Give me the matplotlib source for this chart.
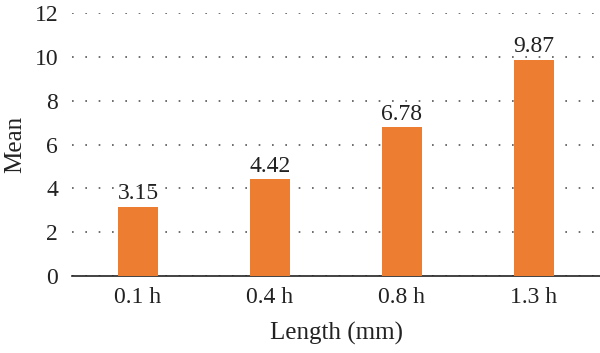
import numpy as np
import matplotlib.pyplot as plt

categories = ['0.1 h', '0.4 h', '0.8 h', '1.3 h']
means = [3.15, 4.42, 6.78, 9.87]
yticks = [0, 2, 4, 6, 8, 10, 12]

plt.rcParams['font.family'] = ['Liberation Serif', 'DejaVu Serif']

fig = plt.figure(figsize=(6, 3.53), dpi=100)
ax = fig.add_axes([0.12, 0.218, 0.88, 0.745])

x = np.arange(len(categories))
bars = ax.bar(x, means, width=0.31, color='#ED7D31', zorder=3)
for xi, v in zip(x, means):
    ax.text(xi, v + 0.12, f'{v:.2f}', ha='center', va='bottom', fontsize=17, color='#222222')

ax.set_xlim(-0.5, len(categories) - 0.5)
ax.set_ylim(0, 12)
ax.set_yticks(yticks)
ax.set_xticks(x)
ax.set_xticklabels(categories)
ax.tick_params(axis='both', length=0, labelsize=17, colors='#222222', pad=8)
ax.tick_params(axis='y', pad=10)

ax.grid(axis='y', linestyle=(0, (1, 7)), color='#555555', linewidth=1.2, zorder=0)
for s in ['top', 'right', 'left']:
    ax.spines[s].set_visible(False)
ax.spines['bottom'].set_color('#222222')
ax.spines['bottom'].set_linewidth(1.2)

ax.set_xlabel('Length (mm)', fontsize=18, color='#222222', labelpad=10)
ax.set_ylabel('Mean', fontsize=18, color='#222222', labelpad=6)

fig.savefig('out.png', dpi=100)
